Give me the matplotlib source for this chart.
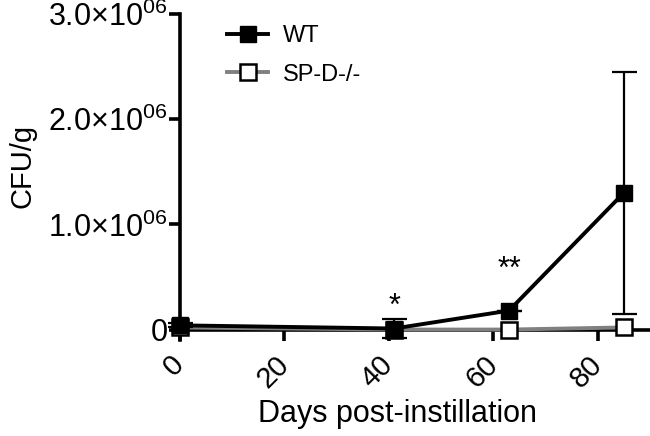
import numpy as np
import matplotlib
matplotlib.use("Agg")
import matplotlib.pyplot as plt
from matplotlib.lines import Line2D

plt.rcParams['font.family'] = ['Liberation Sans', 'DejaVu Sans']
plt.rcParams['mathtext.fontset'] = 'custom'
plt.rcParams['mathtext.rm'] = 'Liberation Sans'

# data
days_wt = [0, 41, 63, 85]
cfu_wt = [40000, 10000, 180000, 1300000]
err_wt = [20000, 90000, 0, 1150000]
days_ko = [0, 41, 63, 85]
cfu_ko = [20000, 0, 0, 20000]

yticks = [0, 1e6, 2e6, 3e6]
yticklabels = ['0', r'1.0$\times$10$^{06}$', r'2.0$\times$10$^{06}$', r'3.0$\times$10$^{06}$']
xticks = [0, 20, 40, 60, 80]

fig = plt.figure(figsize=(6.5, 4.36), dpi=100)
ax = fig.add_axes([0.277, 0.22, 0.723, 0.748])

ax.plot(days_ko, cfu_ko, color='#808080', lw=2.8, marker='s', ms=11,
        mfc='white', mec='black', mew=1.8, zorder=3, clip_on=False)
ax.errorbar(days_wt, cfu_wt, yerr=err_wt, color='black', lw=2.8, marker='s', ms=11,
            mfc='black', mec='black', ecolor='black', elinewidth=1.6,
            capsize=9, capthick=1.6, zorder=4, clip_on=False)

ax.text(41, 0.22e6, '*', ha='center', va='center', fontsize=22)
ax.text(63, 0.57e6, '**', ha='center', va='center', fontsize=22)

ax.set_xlim(0, 90)
ax.set_ylim(-0.1e6, 3e6)
ax.spines['top'].set_visible(False)
ax.spines['right'].set_visible(False)
ax.spines['bottom'].set_position(('data', 0))
ax.spines['left'].set_linewidth(2.6)
ax.spines['bottom'].set_linewidth(2.6)

ax.set_yticks(yticks)
ax.set_yticklabels(yticklabels, fontsize=22)
ax.set_xticks(xticks)
ax.set_xticklabels([str(t) for t in xticks], fontsize=21, rotation=45,
                   ha='right', va='center', rotation_mode='anchor')
ax.tick_params(axis='both', width=2.6, length=8, direction='out')
ax.tick_params(axis='y', pad=1)
ax.tick_params(axis='x', pad=14)

ax.set_ylabel('CFU/g', fontsize=21)
ax.yaxis.set_label_coords(-0.305, 0.534)
ax.set_xlabel('Days post-instillation', fontsize=22)
ax.xaxis.set_label_coords(0.462, -0.18)

handles = [Line2D([], [], color='black', lw=2.8, marker='s', ms=11, mfc='black', mec='black'),
           Line2D([], [], color='#808080', lw=2.8, marker='s', ms=11, mfc='white',
                  mec='black', mew=1.8)]
ax.legend(handles, ['WT', 'SP-D-/-'], loc='upper left', bbox_to_anchor=(0.08, 0.995),
          borderaxespad=0, frameon=False, fontsize=17, handlelength=1.75,
          handletextpad=0.6, labelspacing=0.7)

fig.savefig('out.png', dpi=100)
